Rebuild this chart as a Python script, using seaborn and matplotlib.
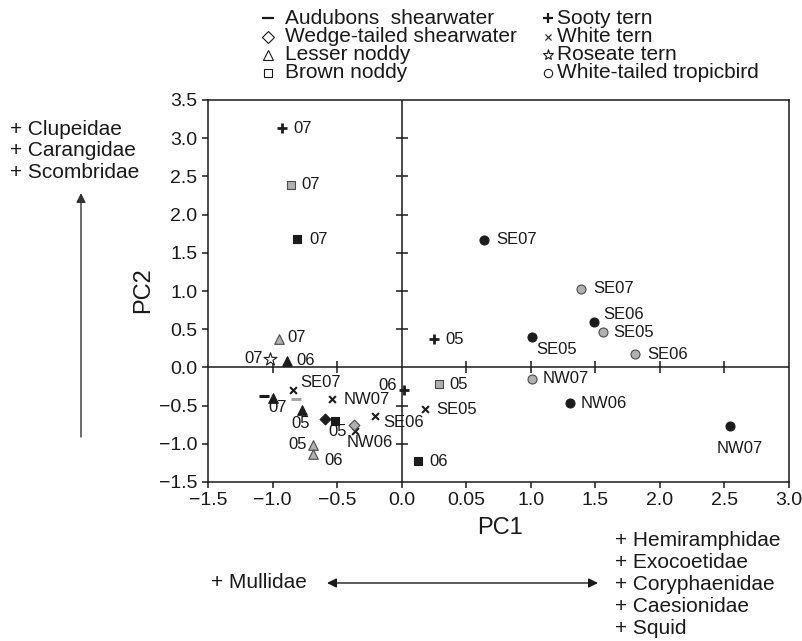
import matplotlib
matplotlib.use("Agg")
import matplotlib.pyplot as plt
from matplotlib.lines import Line2D
import seaborn as sns
import pandas as pd

sns.set_theme(style="white")
plt.rcParams['font.family'] = ['Liberation Sans', 'DejaVu Sans']

# ---------------- data ----------------
species_names = ["Audubons  shearwater", "Wedge-tailed shearwater", "Lesser noddy", "Brown noddy",
                 "Sooty tern", "White tern", "Roseate tern", "White-tailed tropicbird"]

species = ["Sooty tern", "Brown noddy", "Brown noddy", "Lesser noddy", "Roseate tern",
           "Lesser noddy", "White tern", "Audubons  shearwater", "Lesser noddy", "Audubons  shearwater",
           "Lesser noddy", "White tern", "Wedge-tailed shearwater", "Brown noddy", "Wedge-tailed shearwater",
           "White tern", "White tern", "Lesser noddy", "Lesser noddy", "Sooty tern",
           "Brown noddy", "White tern", "Brown noddy", "Sooty tern", "White-tailed tropicbird",
           "White-tailed tropicbird", "White-tailed tropicbird", "White-tailed tropicbird", "White-tailed tropicbird", "White-tailed tropicbird",
           "White-tailed tropicbird", "White-tailed tropicbird", "White-tailed tropicbird"]
site = ["black", "gray", "black", "gray", "white",
        "black", "black", "black", "black", "gray",
        "black", "black", "black", "black", "gray",
        "black", "black", "gray", "gray", "black",
        "gray", "black", "black", "black", "black",
        "black", "gray", "black", "gray", "gray",
        "gray", "black", "black"]
pc1 = [-0.93, -0.86, -0.81, -0.95, -1.02,
       -0.89, -0.84, -1.07, -1.00, -0.82,
       -0.77, -0.54, -0.59, -0.52, -0.37,
       -0.36, -0.21, -0.69, -0.69, 0.02,
       0.29, 0.18, 0.13, 0.25, 0.64,
       1.01, 1.39, 1.49, 1.56, 1.81,
       1.01, 1.30, 2.54]
pc2 = [3.13, 2.39, 1.68, 0.37, 0.11,
       0.09, -0.29, -0.37, -0.40, -0.42,
       -0.56, -0.42, -0.67, -0.70, -0.75,
       -0.83, -0.63, -1.01, -1.14, -0.29,
       -0.22, -0.55, -1.23, 0.37, 1.67,
       0.40, 1.03, 0.60, 0.46, 0.18,
       -0.15, -0.47, -0.77]
labels = ["07", "07", "07", "07", "07",
          "06", "SE07", "", "07", "",
          "05", "NW07", "", "", "05",
          "NW06", "SE06", "05", "06", "06",
          "05", "SE05", "06", "05", "SE07",
          "SE05", "SE07", "SE06", "SE05", "SE06",
          "NW07", "NW06", "NW07"]

xtick_vals = [-1.5, -1.0, -0.5, 0.0, 0.5, 1.0, 1.5, 2.0, 2.5, 3.0]
xtick_labels = ["\u22121.5", "\u22121.0", "\u22120.5", "0.0", "0.05", "1.0", "1.5", "2.0", "2.5", "3.0"]
ytick_vals = [-1.5, -1.0, -0.5, 0.0, 0.5, 1.0, 1.5, 2.0, 2.5, 3.0, 3.5]
ytick_labels = ["\u22121.5", "\u22121.0", "\u22120.5", "0.0", "0.5", "1.0", "1.5", "2.0", "2.5", "3.0", "3.5"]

pc2_taxa = ["+ Clupeidae", "+ Carangidae", "+ Scombridae"]
pc1_neg_taxa = ["+ Mullidae"]
pc1_pos_taxa = ["+ Hemiramphidae", "+ Exocoetidae", "+ Coryphaenidae", "+ Caesionidae", "+ Squid"]

# ---------------- styles ----------------
# label offsets in pixels (dx right, dy down) and alignment
lab_style = [(12, 0, 'left'), (11, 0, 'left'), (12, 0, 'left'), (8, -2, 'left'), (-7, 0, 'right'),
             (10, 0, 'left'), (7, -7, 'left'), (0, 0, 'left'), (5, 10, 'center'), (0, 0, 'left'),
             (-2, 13, 'center'), (12, 0, 'left'), (0, 0, 'left'), (0, 0, 'left'), (-7, 7, 'right'),
             (15, 12, 'center'), (9, 7, 'left'), (-6, 0, 'right'), (12, 6, 'left'), (-7, -4, 'right'),
             (10, 0, 'left'), (11, 0, 'left'), (11, 0, 'left'), (11, 0, 'left'), (12, 0, 'left'),
             (25, 13, 'center'), (12, 0, 'left'), (9, -7, 'left'), (10, 0, 'left'), (12, 1, 'left'),
             (11, 0, 'left'), (11, 0, 'left'), (10, 22, 'center')]

marker_map = {"Audubons  shearwater": "_", "Wedge-tailed shearwater": "D", "Lesser noddy": "^",
              "Brown noddy": "s", "Sooty tern": "+", "White tern": "x", "Roseate tern": "*",
              "White-tailed tropicbird": "o"}
size_map = {"_": 55, "D": 30, "^": 48, "s": 30, "+": 55, "x": 24, "*": 95, "o": 42}
lw_map = {"_": 2.2, "D": 0.8, "^": 0.8, "s": 0.8, "+": 2.0, "x": 1.5, "*": 0.8, "o": 0.8}
face = {"black": "#1c1c1c", "gray": "#b0b0b0", "white": "white"}
edge = {"black": "#1c1c1c", "gray": "#4a4a4a", "white": "#1c1c1c"}
line_col = {"black": "#1c1c1c", "gray": "#a5a5a5", "white": "#1c1c1c"}

W, H = 802, 641
fig = plt.figure(figsize=(W / 100, H / 100), dpi=100)
ax = fig.add_axes([208 / W, 1 - 482 / H, (789 - 208) / W, (482 - 100) / H])

df = pd.DataFrame({"species": species, "site": site, "PC1": pc1, "PC2": pc2, "label": labels})

for (sp, st), g in df.groupby(["species", "site"], sort=False):
    m = marker_map[sp]
    if m in ("+", "x", "_"):
        sns.scatterplot(data=g, x="PC1", y="PC2", marker=m, s=size_map[m], color=line_col[st],
                        linewidth=lw_map[m], ax=ax, legend=False, zorder=4)
    else:
        sns.scatterplot(data=g, x="PC1", y="PC2", marker=m, s=size_map[m], color=face[st],
                        edgecolor=edge[st], linewidth=lw_map[m], ax=ax, legend=False, zorder=4)

for i, row in df.iterrows():
    if row["label"]:
        dx, dy, ha = lab_style[i]
        ax.annotate(row["label"], (row["PC1"], row["PC2"]), xytext=(dx, -dy),
                    textcoords="offset pixels", ha=ha, va="center", fontsize=12, color="#1a1a1a",
                    zorder=5)

ax.set_xlim(-1.5, 3.0)
ax.set_ylim(-1.5, 3.5)
ax.set_xticks(xtick_vals)
ax.set_xticklabels(xtick_labels)
ax.set_yticks(ytick_vals)
ax.set_yticklabels(ytick_labels)
ax.tick_params(axis="both", which="both", direction="out", length=4, width=1.1, color="#1a1a1a",
               labelsize=14, pad=3.5, labelcolor="#1a1a1a", bottom=True, left=True)
for sp_ in ax.spines.values():
    sp_.set_color("#1a1a1a")
    sp_.set_linewidth(1.1)

ax.axhline(0, color="#1a1a1a", lw=1.1, zorder=2)
ax.axvline(0, color="#1a1a1a", lw=1.1, zorder=2)
inner_x = [v for v in xtick_vals if v not in (-1.5, 0.0, 3.0)]
inner_y = [v for v in ytick_vals if v not in (-1.5, 0.0, 3.5)]
ax.plot(inner_x, [0] * len(inner_x), ls="none", marker="|", ms=9, mew=1.1, color="#1a1a1a", zorder=2)
ax.plot([0] * len(inner_y), inner_y, ls="none", marker="_", ms=9, mew=1.1, color="#1a1a1a", zorder=2)

ax.set_xlabel("PC1", fontsize=17, color="#1a1a1a")
ax.set_ylabel("PC2", fontsize=17, color="#1a1a1a")
ax.xaxis.set_label_coords((500 - 208) / 581, (482 - 517) / 382)
ax.yaxis.set_label_coords((154 - 208) / 581, (482 - 290) / 382)

# ---------------- legend (two columns) ----------------
leg_rows = [18, 37, 55, 73]
cols = [(268, 285, species_names[:4]), (548, 557, species_names[4:])]
leg_size = {"_": 8, "D": 6, "^": 7, "s": 6, "+": 7, "x": 5, "*": 8, "o": 6}
for mx, tx, names in cols:
    for yy, nm in zip(leg_rows, names):
        m = marker_map[nm]
        fy = 1 - yy / H
        fig.add_artist(Line2D([mx / W], [fy], marker=m, ms=leg_size[m], mfc="white", mec="#1a1a1a",
                              mew=1.6 if m in ("_", "+") else 0.8, color="#1a1a1a", ls="none",
                              transform=fig.transFigure))
        fig.text(tx / W, fy, nm, fontsize=15, va="center", ha="left", color="#1a1a1a")

# ---------------- axis interpretation annotations ----------------
for yy, t in zip([130, 151, 173], pc2_taxa):
    fig.text(10 / W, 1 - yy / H, t, fontsize=15, va="center", ha="left", color="#1a1a1a")
fig.text(211 / W, 1 - 583 / H, pc1_neg_taxa[0], fontsize=15, va="center", ha="left", color="#1a1a1a")
for yy, t in zip([540, 562, 584, 607, 628], pc1_pos_taxa):
    fig.text(615 / W, 1 - yy / H, t, fontsize=15, va="center", ha="left", color="#1a1a1a")

ax.annotate("", xy=(81 / W, 1 - 193 / H), xytext=(81 / W, 1 - 437 / H), xycoords="figure fraction",
            textcoords="figure fraction", annotation_clip=False,
            arrowprops=dict(arrowstyle="-|>", color="#333333", lw=1.0, mutation_scale=14,
                            shrinkA=0, shrinkB=0))
ax.annotate("", xy=(598 / W, 1 - 583 / H), xytext=(327 / W, 1 - 583 / H), xycoords="figure fraction",
            textcoords="figure fraction", annotation_clip=False,
            arrowprops=dict(arrowstyle="<|-|>", color="#1a1a1a", lw=1.0, mutation_scale=14,
                            shrinkA=0, shrinkB=0))

fig.savefig("out.png", dpi=100)
